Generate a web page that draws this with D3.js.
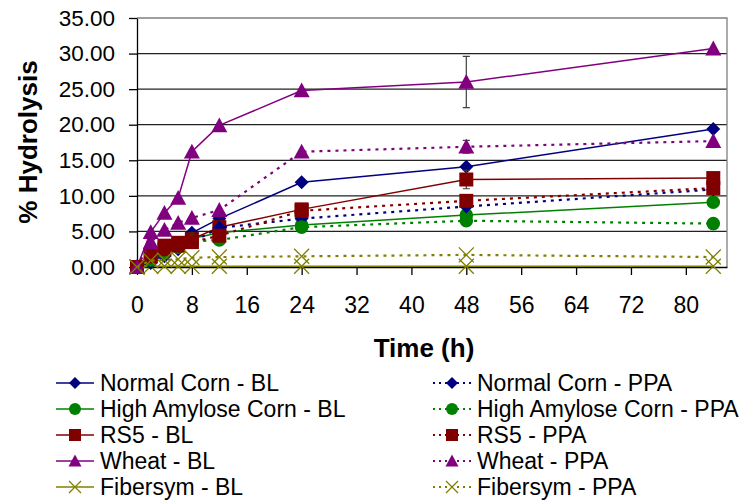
<!DOCTYPE html>
<html>
<head>
<meta charset="utf-8">
<script src="https://cdn.jsdelivr.net/npm/d3@7"></script>
<style>
  body { margin:0; background:#fff; }
  text { font-family: Arial, "Liberation Sans", sans-serif; }
</style>
</head>
<body>
<div id="chart"></div>
<script>
var width = 746;
var height = 503;
var margin = {top:18,left:137,right:19,bottom:236};

// sampling times (h)
var times = [0, 2, 4, 6, 8, 12, 24, 48, 84];

var xTicks = [0, 8, 16, 24, 32, 40, 48, 56, 64, 72, 80];
var yTicks = [0, 5, 10, 15, 20, 25, 30, 35];

// % hydrolysis per series
var ncBL   = [0, 0.6, 1.8, 3.0, 4.8, 6.8, 11.9, 14.1, 19.4];
var haBL   = [0, 1.2, 2.2, 3.0, 4.0, 4.8, 5.9, 7.3, 9.1];
var rs5BL  = [0, 1.8, 3.0, 3.4, 3.9, 5.6, 8.1, 12.3, 12.5];
var whBL   = [0, 4.9, 7.6, 9.7, 16.2, 19.9, 24.8, 26.0, 30.7];
var fibBL  = [0, 0.1, 0.1, 0.1, 0.1, 0.1, 0.1, 0.1, 0.1];
var ncPPA  = [0, 0.6, 1.5, 2.5, 3.5, 5.5, 6.8, 8.5, 10.9];
var haPPA  = [0, 1.0, 2.0, 2.8, 3.6, 3.8, 5.6, 6.5, 6.1];
var rs5PPA = [0, 1.5, 2.5, 3.0, 3.5, 4.4, 7.9, 9.3, 11.1];
var whPPA  = [0, 3.5, 5.2, 6.2, 6.9, 8.0, 16.2, 16.9, 17.7];
var fibPPA = [0, 0.9, 1.0, 1.1, 1.3, 1.4, 1.5, 1.7, 1.4];

// error bars (only where visible)
var whBLErr  = [0, 0, 0, 0, 0, 0, 0, 3.6, 0];
var whPPAErr = [0, 0, 0, 0, 0, 0, 0, 0.9, 0];
var rs5BLErr = [0, 0, 0, 0, 0, 0, 0, 1.3, 0];

var series = [
  {name:"Normal Corn - BL", values:ncBL, color:"#000080", shape:"diamond", dash:false},
  {name:"High Amylose Corn - BL", values:haBL, color:"#008000", shape:"circle", dash:false},
  {name:"RS5 - BL", values:rs5BL, color:"#800000", shape:"square", dash:false, err:rs5BLErr},
  {name:"Wheat - BL", values:whBL, color:"#800080", shape:"triangle", dash:false, err:whBLErr},
  {name:"Fibersym - BL", values:fibBL, color:"#808000", shape:"cross", dash:false},
  {name:"Normal Corn - PPA", values:ncPPA, color:"#000080", shape:"diamond", dash:true},
  {name:"High Amylose Corn - PPA", values:haPPA, color:"#008000", shape:"circle", dash:true},
  {name:"RS5 - PPA", values:rs5PPA, color:"#800000", shape:"square", dash:true},
  {name:"Wheat - PPA", values:whPPA, color:"#800080", shape:"triangle", dash:true, err:whPPAErr},
  {name:"Fibersym - PPA", values:fibPPA, color:"#808000", shape:"cross", dash:true}
];

var svg = d3.select("#chart")
  .append("svg")
  .attr("width", width)
  .attr("height", height);

var xScale = d3.scaleLinear()
  .domain([0, 86])
  .range([margin.left, width - margin.right]);

var yScale = d3.scaleLinear()
  .domain([0, 35])
  .range([height - margin.bottom, margin.top]);

// gridlines
svg.append("g")
  .selectAll("line")
  .data(yTicks.slice(1, -1))
  .enter()
  .append("line")
    .attr("x1", margin.left)
    .attr("x2", width - margin.right)
    .attr("y1", function(d) { return yScale(d); })
    .attr("y2", function(d) { return yScale(d); })
    .attr("stroke", "#222")
    .attr("stroke-width", 1.3);

// plot border (top, right)
svg.append("path")
  .attr("d", "M" + margin.left + "," + yScale(35) + "H" + xScale(86) + "V" + yScale(0))
  .attr("fill", "none")
  .attr("stroke", "#808080")
  .attr("stroke-width", 1.3);

var xAxis = svg.append("g")
  .attr("transform", `translate(0,${yScale(0)})`)
  .call(d3.axisBottom(xScale).tickValues(xTicks).tickSizeOuter(0).tickSizeInner(8).tickPadding(22));

var yAxis = svg.append("g")
  .attr("transform", `translate(${margin.left},0)`)
  .call(d3.axisLeft(yScale).tickValues(yTicks).tickSizeOuter(0).tickSizeInner(8).tickPadding(14)
    .tickFormat(d3.format(".2f")));

xAxis.selectAll("text").style("font-size", "23px").attr("fill", "#000");
yAxis.selectAll("text").style("font-size", "22.5px").attr("fill", "#000");
svg.selectAll(".domain").attr("stroke", "#000").attr("stroke-width", 1.3);
svg.selectAll(".tick line").attr("stroke", "#000").attr("stroke-width", 1.3);

svg.append("text")
  .attr("x", 424)
  .attr("y", 357)
  .attr("text-anchor", "middle")
  .style("font-size", "26px")
  .style("font-weight", "bold")
  .text("Time (h)");

svg.append("text")
  .attr("transform", "translate(37,142) rotate(-90)")
  .attr("text-anchor", "middle")
  .style("font-size", "26px")
  .style("font-weight", "bold")
  .text("% Hydrolysis");

function markerPath(shape, s) {
  if (shape == "diamond") return "M0," + (-s) + "L" + s + ",0L0," + s + "L" + (-s) + ",0Z";
  if (shape == "square") return "M" + (-s) + "," + (-s) + "H" + s + "V" + s + "H" + (-s) + "Z";
  if (shape == "triangle") return "M0," + (-s) + "L" + s + "," + (s * 0.85) + "L" + (-s) + "," + (s * 0.85) + "Z";
  if (shape == "circle") return d3.symbol(d3.symbolCircle, Math.PI * s * s)();
  return "M" + (-s) + "," + (-s) + "L" + s + "," + s + "M" + s + "," + (-s) + "L" + (-s) + "," + s;
}

var markerSize = {diamond:7, square:7, triangle:8, circle:6.8, cross:7.5};

var line = d3.line()
  .x(function(d, i) { return xScale(times[i]); })
  .y(function(d) { return yScale(d); });

series.forEach(function(s) {
  var g = svg.append("g");
  g.append("path")
    .attr("d", line(s.values))
    .attr("fill", "none")
    .attr("stroke", s.color)
    .attr("stroke-width", s.dash ? 2.2 : 1.5)
    .attr("stroke-dasharray", s.dash ? "3,5" : null);

  if (s.err) {
    g.selectAll(".err")
      .data(s.values.map(function(v, i) { return {t:times[i], v:v, e:s.err[i]}; })
        .filter(function(d) { return d.e > 0; }))
      .enter()
      .append("path")
        .attr("d", function(d) {
          var x = xScale(d.t), y1 = yScale(d.v + d.e), y2 = yScale(d.v - d.e);
          return "M" + (x - 3.5) + "," + y1 + "H" + (x + 3.5) + "M" + x + "," + y1 + "V" + y2 +
            "M" + (x - 3.5) + "," + y2 + "H" + (x + 3.5);
        })
        .attr("stroke", "#404040")
        .attr("stroke-width", 1.2)
        .attr("fill", "none");
  }

  g.selectAll(".mark")
    .data(s.values)
    .enter()
    .append("path")
      .attr("transform", function(d, i) { return `translate(${xScale(times[i])},${yScale(d)})`; })
      .attr("d", markerPath(s.shape, markerSize[s.shape]))
      .attr("fill", s.shape == "cross" ? "none" : s.color)
      .attr("stroke", s.shape == "cross" ? s.color : "none")
      .attr("stroke-width", 1.3);
});

// legend
var legend = svg.append("g");
series.forEach(function(s, i) {
  var col = i < 5 ? 0 : 1;
  var row = i % 5;
  var x0 = col == 0 ? 56 : 433;
  var y0 = 383 + row * 26;
  var item = legend.append("g").attr("transform", `translate(${x0},${y0})`);
  item.append("line")
    .attr("x1", 0).attr("x2", 38)
    .attr("stroke", s.color)
    .attr("stroke-width", s.dash ? 2 : 1.5)
    .attr("stroke-dasharray", s.dash ? "2,4" : null);
  item.append("path")
    .attr("transform", "translate(19,0)")
    .attr("d", markerPath(s.shape, s.shape == "triangle" ? 6.5 : 6))
    .attr("fill", s.shape == "cross" ? "none" : s.color)
    .attr("stroke", s.shape == "cross" ? s.color : "none")
    .attr("stroke-width", 1.3);
  item.append("text")
    .attr("x", 44)
    .attr("y", 8)
    .style("font-size", "23px")
    .text(s.name);
});
</script>
</body>
</html>
